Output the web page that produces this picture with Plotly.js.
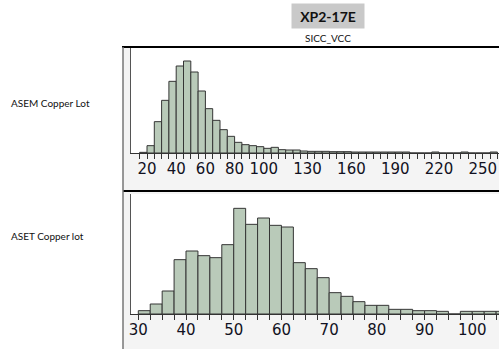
<!DOCTYPE html>
<html>
<head>
<meta charset="utf-8">
<script src="https://cdn.plot.ly/plotly-3.0.1.min.js"></script>
<style>html,body{margin:0;padding:0;background:#fff;}#chart{width:499px;height:349px;}</style>
</head>
<body>
<div id="chart"></div>
<script>
// ---- data ----
const chartTitle = 'XP2-17E';
const chartSubtitle = 'SICC_VCC';
const rowLabels = ['ASEM Copper Lot', 'ASET Copper lot'];

// Top histogram (ASEM), bin width 5
const topBinWidth = 5;
const topBinStarts = [15,20,25,30,35,40,45,50,55,60,65,70,75,80,85,90,95,100,105,110,115,120,125,130,135,140,145,150,155,160,165,170,175,180,185,190,195,200,205,210,215,220,225,230,235,240,245,250,255];
const topCounts    = [2,22,94,158,215,261,276,243,186,133,98,70,50,32,25,22,19,14,17,10,9,9,6,5,5,5,4,4,4,3,3,3,3,3,3,3,3,0,0,0,3,0,0,0,3,0,0,0,3];
const topTickLabels = [20,40,60,80,100,130,160,190,220,250];

// Bottom histogram (ASET), bin width 2.5
const botBinWidth = 2.5;
const botBinStarts = [30,32.5,35,37.5,40,42.5,45,47.5,50,52.5,55,57.5,60,62.5,65,67.5,70,72.5,75,77.5,80,82.5,85,87.5,90,92.5,95,97.5,100,102.5,105];
const botCounts    = [10,30,69,163,189,175,169,208,317,269,288,266,261,154,136,109,64,53,37,26,26,14,14,10,10,8,0,8,8,8,8];
const botTickLabels = [30,40,50,60,70,80,90,100];

// ---- helpers ----
const W = 499, H = 349;
const px = v => v / W;
const py = v => 1 - v / H;

function centers(starts, w) { return starts.map(s => s + w / 2); }
function edges(starts, w) { return starts.concat([starts[starts.length - 1] + w]); }
function tickText(vals, labels) { return vals.map(v => labels.indexOf(v) >= 0 ? String(v) : ''); }

const barFill = '#b9cab9';
const barLine = '#353535';
const tickFont = {family: 'DejaVu Sans', size: 15, color: '#111122'};

const topEdges = edges(topBinStarts, topBinWidth);
const botEdges = edges(botBinStarts, botBinWidth);

const traces = [
  {
    type: 'bar', x: centers(topBinStarts, topBinWidth), y: topCounts,
    width: topBinWidth, xaxis: 'x', yaxis: 'y',
    marker: {color: barFill, line: {color: barLine, width: 1}},
    hoverinfo: 'none', showlegend: false
  },
  {
    type: 'bar', x: centers(botBinStarts, botBinWidth), y: botCounts,
    width: botBinWidth, xaxis: 'x2', yaxis: 'y2',
    marker: {color: barFill, line: {color: barLine, width: 1}},
    hoverinfo: 'none', showlegend: false
  }
];

const xCommon = {
  showline: true, linecolor: '#333', linewidth: 1,
  ticks: 'outside', ticklen: 5, tickwidth: 1, tickcolor: '#333', ticklabelstandoff: -3,
  showgrid: false, zeroline: false, tickfont: tickFont, tickangle: 0, fixedrange: true
};
const yCommon = {
  showline: true, linecolor: '#555', linewidth: 1.5,
  ticks: '', showticklabels: false, showgrid: false, zeroline: false, fixedrange: true
};

const layout = {
  width: W, height: H, autosize: false,
  margin: {l: 0, r: 0, t: 0, b: 0, pad: 0},
  paper_bgcolor: '#ffffff', plot_bgcolor: 'rgba(0,0,0,0)',
  bargap: 0, showlegend: false,
  xaxis: Object.assign({}, xCommon, {
    domain: [px(131), 1], anchor: 'y', range: [9.04, 261.1],
    tickmode: 'array', tickvals: topEdges, ticktext: tickText(topEdges, topTickLabels)
  }),
  yaxis: Object.assign({}, yCommon, {
    domain: [py(153), py(48)], anchor: 'x', range: [0, 315]
  }),
  xaxis2: Object.assign({}, xCommon, {
    domain: [px(131), 1], anchor: 'y2', range: [28.47, 105.6],
    tickmode: 'array', tickvals: botEdges, ticktext: tickText(botEdges, botTickLabels)
  }),
  yaxis2: Object.assign({}, yCommon, {
    domain: [py(314), py(194)], anchor: 'x2', range: [0, 360]
  }),
  shapes: [
    // light gray cell backgrounds
    {type: 'rect', xref: 'paper', yref: 'paper', layer: 'below', x0: px(123), x1: 1, y0: py(191), y1: py(47), fillcolor: '#f4f4f4', line: {width: 0}},
    {type: 'rect', xref: 'paper', yref: 'paper', layer: 'below', x0: px(123), x1: 1, y0: 0, y1: py(191), fillcolor: '#f4f4f4', line: {width: 0}},
    // white plot areas
    {type: 'rect', xref: 'paper', yref: 'paper', layer: 'below', x0: px(131), x1: 1, y0: py(153), y1: py(48), fillcolor: '#ffffff', line: {width: 0}},
    {type: 'rect', xref: 'paper', yref: 'paper', layer: 'below', x0: px(131), x1: 1, y0: py(314), y1: py(194), fillcolor: '#ffffff', line: {width: 0}},
    // table lines
    {type: 'line', xref: 'paper', yref: 'paper', x0: px(122), x1: 1, y0: py(47), y1: py(47), line: {color: '#000', width: 2}},
    {type: 'line', xref: 'paper', yref: 'paper', x0: px(123), x1: 1, y0: py(191), y1: py(191), line: {color: '#000', width: 2}},
    {type: 'line', xref: 'paper', yref: 'paper', x0: px(123), x1: px(123), y0: 0, y1: py(47), line: {color: '#777', width: 1.5}}
  ],
  annotations: [
    {text: '<b>' + chartTitle + '</b>', xref: 'paper', yref: 'paper', x: px(328), y: py(16), xanchor: 'center', yanchor: 'middle',
     showarrow: false, bgcolor: '#c9c9c9', width: 70, height: 22, font: {family: 'Lato', size: 14, color: '#111'}},
    {text: chartSubtitle, xref: 'paper', yref: 'paper', x: px(328), y: py(38), xanchor: 'center', yanchor: 'middle',
     showarrow: false, font: {family: 'Lato', size: 10, color: '#111'}},
    {text: rowLabels[0], xref: 'paper', yref: 'paper', x: px(9), y: py(103), xanchor: 'left', yanchor: 'middle',
     showarrow: false, font: {family: 'Lato', size: 10, color: '#111'}},
    {text: rowLabels[1], xref: 'paper', yref: 'paper', x: px(9), y: py(236), xanchor: 'left', yanchor: 'middle',
     showarrow: false, font: {family: 'Lato', size: 10, color: '#111'}}
  ]
};

Plotly.newPlot('chart', traces, layout, {staticPlot: true, displayModeBar: false});
</script>
</body>
</html>
